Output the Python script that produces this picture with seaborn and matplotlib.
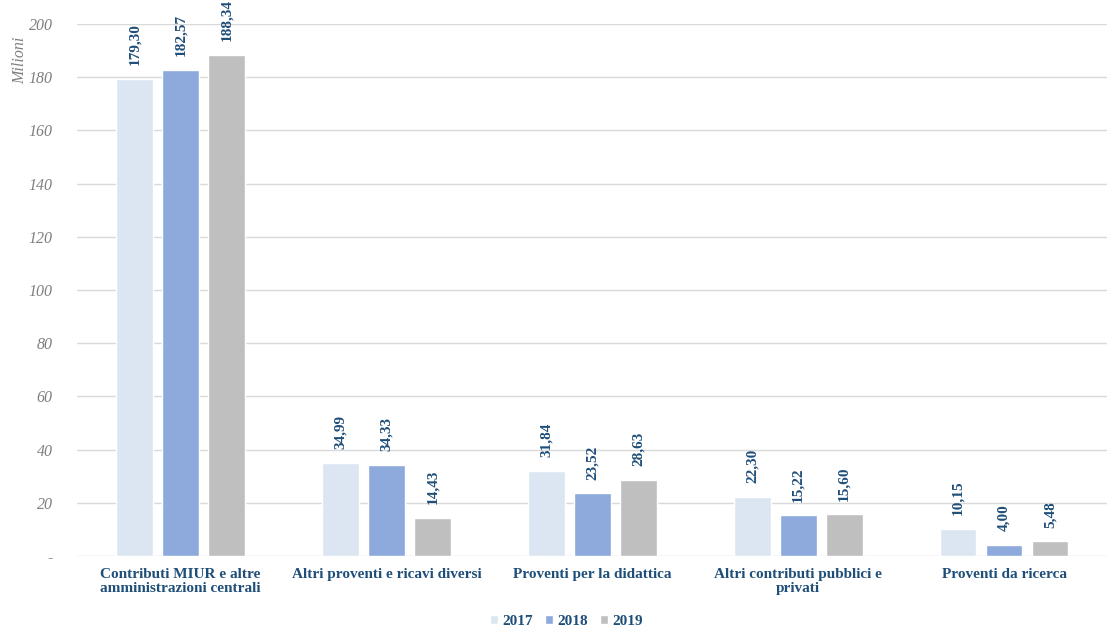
import matplotlib
matplotlib.use("Agg")
import matplotlib.pyplot as plt
import pandas as pd
import seaborn as sns

categories = [
    "Contributi MIUR e altre\namministrazioni centrali",
    "Altri proventi e ricavi diversi",
    "Proventi per la didattica",
    "Altri contributi pubblici e\nprivati",
    "Proventi da ricerca",
]
years = ["2017", "2018", "2019"]
v2017 = [179.30, 34.99, 31.84, 22.30, 10.15]
v2018 = [182.57, 34.33, 23.52, 15.22, 4.00]
v2019 = [188.34, 14.43, 28.63, 15.60, 5.48]
yticks = [0, 20, 40, 60, 80, 100, 120, 140, 160, 180, 200]

colors = ["#DCE6F2", "#8EA9DB", "#BFBFBF"]
label_color = "#1F4E79"


def main():
    sns.set_theme(style="white")
    plt.rcParams["font.family"] = ["Liberation Serif", "DejaVu Serif"]

    df = pd.DataFrame(
        {
            "cat": categories * 3,
            "year": [y for y in years for _ in categories],
            "val": v2017 + v2018 + v2019,
        }
    )

    fig = plt.figure(figsize=(11.07, 6.3), dpi=100)
    ax = fig.add_axes([0.07, 0.1175, 0.93, 0.8445])

    sns.barplot(data=df, x="cat", y="val", hue="year", palette=colors,
                width=0.67, gap=0.2, ax=ax, saturation=1, legend=True)

    ax.set_ylim(0, 200)
    ax.set_xlim(-0.5, 4.5)
    ax.set_yticks(yticks)
    ax.set_yticklabels(["-"] + [str(t) for t in yticks[1:]],
                       fontstyle="italic", color="#7F7F7F", fontsize=11.5)
    ax.yaxis.grid(True, color="#D9D9D9", linewidth=1)
    ax.set_axisbelow(True)
    for s in ax.spines.values():
        s.set_visible(False)
    ax.tick_params(axis="both", length=0)
    ax.tick_params(axis="y", pad=18)
    ax.tick_params(axis="x", pad=9)
    ax.set_xlabel("")
    ax.set_ylabel("")
    ax.set_xticks(range(len(categories)))
    ax.set_xticklabels(categories, fontweight="bold", color=label_color,
                       fontsize=11, linespacing=1.05)

    for cont in ax.containers:
        labels = [f"{v:.2f}".replace(".", ",") for v in cont.datavalues]
        ax.bar_label(cont, labels=labels, rotation=90, padding=10,
                     fontweight="bold", color=label_color, fontsize=11)

    fig.text(0.018, 0.905, "Milioni", rotation=90, fontstyle="italic",
             color="#7F7F7F", fontsize=11.5, ha="center", va="center")

    leg = ax.legend(loc="upper center", bbox_to_anchor=(0.475, -0.085),
                    ncol=3, frameon=False, handlelength=0.5, handleheight=0.5,
                    handletextpad=0.3, columnspacing=0.8,
                    prop={"weight": "bold", "size": 11})
    for t in leg.get_texts():
        t.set_color(label_color)

    fig.savefig("out.png", dpi=100)
    plt.close(fig)


if __name__ == "__main__":
    main()
